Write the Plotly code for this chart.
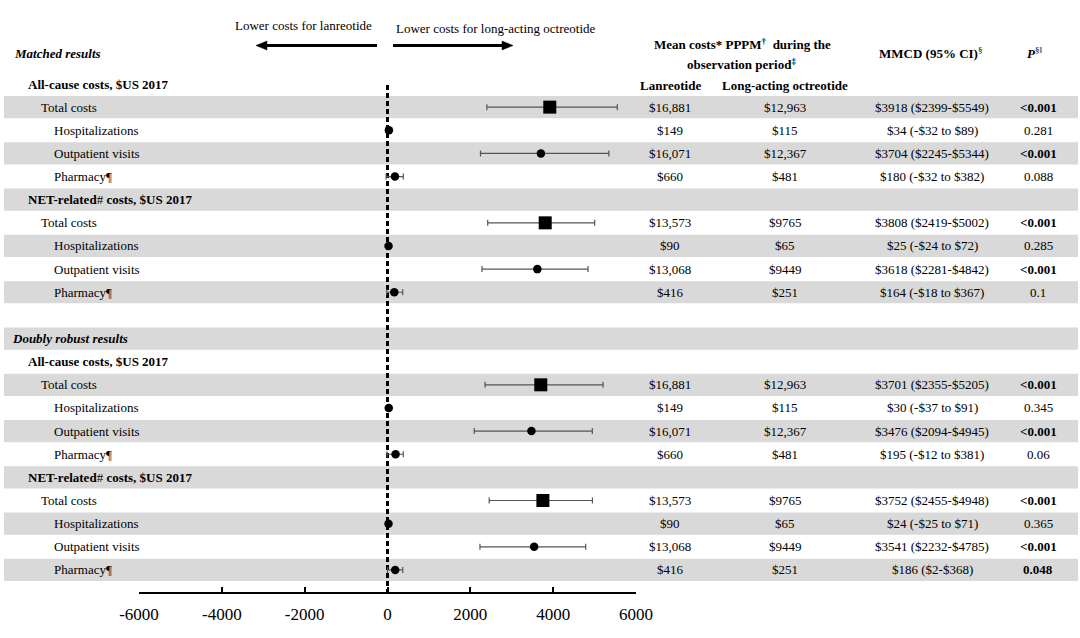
import plotly.graph_objects as go

W, H = 1080, 638
FONT = "Liberation Serif"

# ---------------- data ----------------
categories = ["Total costs", "Hospitalizations", "Outpatient visits", "Pharmacy¶"]

matched_all_mmcd = [3918, 34, 3704, 180]
matched_all_lo = [2399, -32, 2245, -32]
matched_all_hi = [5549, 89, 5344, 382]
matched_all_lan = ["$16,881", "$149", "$16,071", "$660"]
matched_all_oct = ["$12,963", "$115", "$12,367", "$481"]
matched_all_p = ["<0.001", "0.281", "<0.001", "0.088"]

matched_net_mmcd = [3808, 25, 3618, 164]
matched_net_lo = [2419, -24, 2281, -18]
matched_net_hi = [5002, 72, 4842, 367]
matched_net_lan = ["$13,573", "$90", "$13,068", "$416"]
matched_net_oct = ["$9765", "$65", "$9449", "$251"]
matched_net_p = ["<0.001", "0.285", "<0.001", "0.1"]

dr_all_mmcd = [3701, 30, 3476, 195]
dr_all_lo = [2355, -37, 2094, -12]
dr_all_hi = [5205, 91, 4945, 381]
dr_all_lan = ["$16,881", "$149", "$16,071", "$660"]
dr_all_oct = ["$12,963", "$115", "$12,367", "$481"]
dr_all_p = ["<0.001", "0.345", "<0.001", "0.06"]

dr_net_mmcd = [3752, 24, 3541, 186]
dr_net_lo = [2455, -25, 2232, 2]
dr_net_hi = [4948, 71, 4785, 368]
dr_net_lan = ["$13,573", "$90", "$13,068", "$416"]
dr_net_oct = ["$9765", "$65", "$9449", "$251"]
dr_net_p = ["<0.001", "0.365", "<0.001", "0.048"]

tick_vals = [-6000, -4000, -2000, 0, 2000, 4000, 6000]
tick_text = ["-6000", "-4000", "-2000", "0", "2000", "4000", "6000"]

# ---------------- layout helpers ----------------
ROW0_PX = 84.0
PITCH = 23.14
AXIS_PX = 592.0
Y_TOP = -ROW0_PX / PITCH
Y_BOT = (AXIS_PX - ROW0_PX) / PITCH


def row_of_px(p):
    return (p - ROW0_PX) / PITCH


def px_x(p):
    return p / W


def py(p):
    return 1 - p / H


blocks = [
    (0, "All-cause costs, $US 2017", matched_all_mmcd, matched_all_lo, matched_all_hi,
     matched_all_lan, matched_all_oct, matched_all_p),
    (5, "NET-related# costs, $US 2017", matched_net_mmcd, matched_net_lo, matched_net_hi,
     matched_net_lan, matched_net_oct, matched_net_p),
    (12, "All-cause costs, $US 2017", dr_all_mmcd, dr_all_lo, dr_all_hi,
     dr_all_lan, dr_all_oct, dr_all_p),
    (17, "NET-related# costs, $US 2017", dr_net_mmcd, dr_net_lo, dr_net_hi,
     dr_net_lan, dr_net_oct, dr_net_p),
]

gray_rows = [1, 3, 5, 7, 9, 11, 13, 15, 17, 19, 21]

fig = go.Figure()

shapes = []
for r in gray_rows:
    shapes.append(dict(type="rect", xref="paper", yref="y", x0=4 / W, x1=1078 / W,
                       y0=r - 0.48, y1=r + 0.48, fillcolor="#d9d9d9",
                       line=dict(width=0), layer="below"))


def arrow(tail_px, tip_px, y_px):
    d = 1 if tip_px > tail_px else -1
    base = tip_px - d * 11
    shapes.append(dict(type="line", xref="paper", yref="paper",
                       x0=px_x(tail_px), x1=px_x(base), y0=py(y_px), y1=py(y_px),
                       line=dict(color="black", width=3)))
    path = (f"M {px_x(tip_px)},{py(y_px)} L {px_x(base)},{py(y_px - 4.5)} "
            f"L {px_x(base)},{py(y_px + 4.5)} Z")
    shapes.append(dict(type="path", xref="paper", yref="paper", path=path,
                       fillcolor="black", line=dict(color="black", width=0.5)))


arrow(377, 256, 45.5)
arrow(393, 513, 45.5)

# dashed zero line
fig.add_trace(go.Scatter(x=[0, 0], y=[row_of_px(85), Y_BOT], mode="lines",
                         line=dict(color="black", width=3, dash="5px,3px"),
                         hoverinfo="skip", showlegend=False))

annotations = []


def txt(x, y, text, size=13, xanchor="left", yref="y", bold=False, italic=False):
    if italic:
        text = "<i>" + text + "</i>"
    if bold:
        text = "<b>" + text + "</b>"
    annotations.append(dict(x=x, y=y, xref="paper", yref=yref, text=text,
                            showarrow=False, xanchor=xanchor, yanchor="middle",
                            font=dict(family=FONT, size=size, color="black")))


for start, head, mm, lo, hi, lan, octv, pv in blocks:
    if "NET" in head:
        txt(px_x(26), start, "<b>NET-related</b>#<b> costs, $US 2017</b>")
    else:
        txt(px_x(26), start, head, bold=True)
    rows = [start + 1 + k for k in range(len(categories))]
    for k, (r, cat) in enumerate(zip(rows, categories)):
        is_total = cat == "Total costs"
        fig.add_trace(go.Scatter(
            x=[mm[k]], y=[r], mode="markers",
            marker=dict(symbol="square" if is_total else "circle",
                        size=13 if is_total else 8.5, color="black"),
            error_x=dict(type="data", symmetric=False, array=[hi[k] - mm[k]],
                         arrayminus=[mm[k] - lo[k]], color="#555555",
                         thickness=1.2, width=3),
            showlegend=False, hoverinfo="skip"))
        lx = 39 if is_total else 52
        txt(px_x(lx), r, cat)
        txt(px_x(670), r, lan[k], xanchor="center")
        txt(px_x(785), r, octv[k], xanchor="center")
        if lo[k] < 0:
            ci = f"${mm[k]} (-${-lo[k]} to ${hi[k]})"
        else:
            ci = f"${mm[k]} (${lo[k]}-${hi[k]})"
        txt(px_x(932), r, ci, xanchor="center")
        pval = pv[k]
        sig = pval.startswith("<") or float(pval) < 0.05
        txt(px_x(1038), r, pval.replace("<", "&lt;"), xanchor="center", bold=sig)

# section titles
txt(px_x(12), row_of_px(53), "Matched results", bold=True, italic=True)
txt(px_x(10), 11, "Doubly robust results", bold=True, italic=True)

# column headers
txt(px_x(742), row_of_px(44), "Mean costs* PPPM<sup>†</sup>  during the", xanchor="center", bold=True)
txt(px_x(741), row_of_px(64), "observation period<sup>‡</sup>", xanchor="center", bold=True)
txt(px_x(670), row_of_px(85), "Lanreotide", xanchor="center", bold=True)
txt(px_x(785), row_of_px(85), "Long-acting octreotide", xanchor="center", bold=True)
txt(px_x(930), row_of_px(53), "<b>MMCD (95% CI)</b><sup>§</sup>", xanchor="center")
txt(px_x(1034), row_of_px(53), "<b><i>P</i></b><sup>§‖</sup>", xanchor="center")

# direction labels
txt(px_x(303), py(25), "Lower costs for lanreotide", xanchor="center", yref="paper")
txt(px_x(495), py(28), "Lower costs for long-acting octreotide", xanchor="center", yref="paper")

fig.update_layout(
    width=W, height=H,
    margin=dict(l=0, r=0, t=0, b=0, pad=0, autoexpand=False),
    paper_bgcolor="white", plot_bgcolor="rgba(0,0,0,0)",
    shapes=shapes, annotations=annotations,
    xaxis=dict(domain=[139 / W, 636 / W], range=[-6000, 6000],
               showline=True, linecolor="black", linewidth=2,
               ticks="inside", ticklen=5, tickwidth=1.5, tickcolor="black",
               tickvals=tick_vals, ticktext=tick_text,
               tickfont=dict(family=FONT, size=17, color="black"),
               ticklabelstandoff=6, automargin=False,
               showgrid=False, zeroline=False, fixedrange=True),
    yaxis=dict(domain=[1 - AXIS_PX / H, 1], range=[Y_BOT, Y_TOP], visible=False,
               automargin=False,
               showgrid=False, zeroline=False, fixedrange=True),
    showlegend=False,
)

fig.write_html("out.html", config={"responsive": False, "displayModeBar": False},
               post_script="document.body.style.margin='0';document.body.style.overflow='hidden';")
